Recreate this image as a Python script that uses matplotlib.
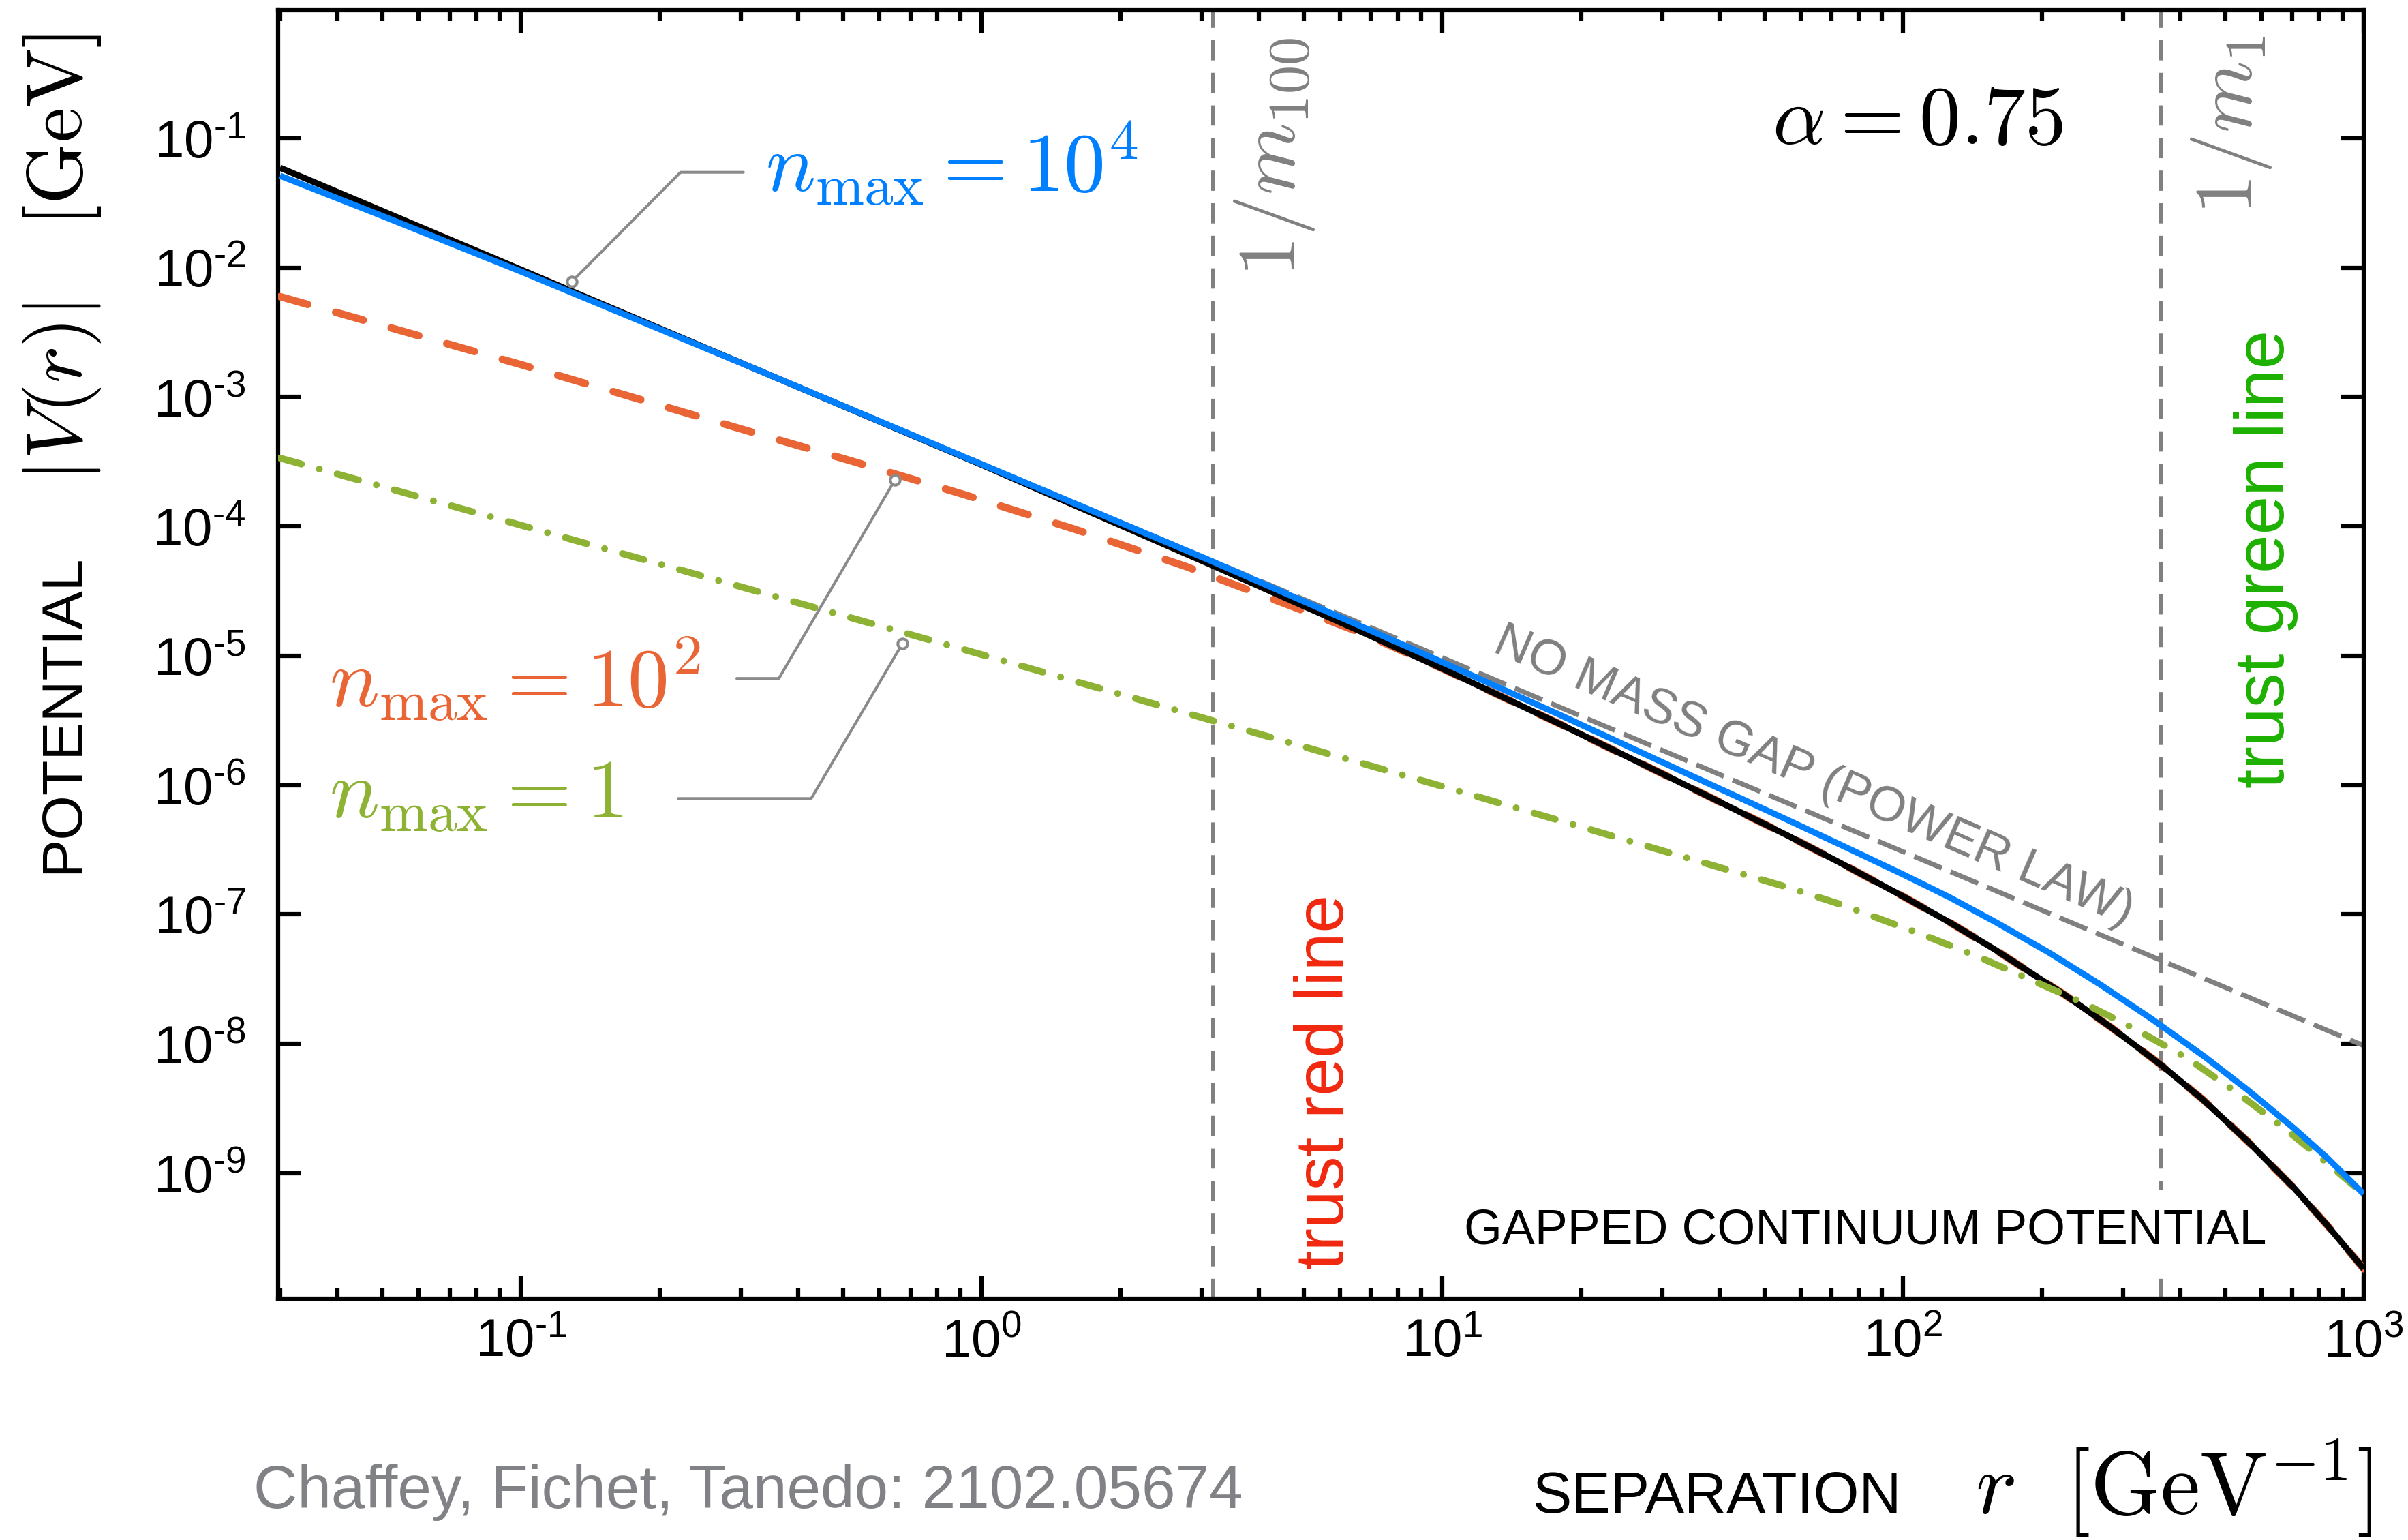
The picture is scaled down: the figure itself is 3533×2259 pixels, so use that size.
import numpy as np
import matplotlib
matplotlib.use("Agg")
import matplotlib.pyplot as plt
from matplotlib.ticker import FixedLocator, FuncFormatter, LogLocator, NullFormatter, NullLocator

# ---------------- data ----------------
r_gapped = [0.03, 0.1, 0.316, 1.0, 3.16, 6.73, 10, 17.8, 31.6, 56.2, 73.0, 100, 126, 158,
            224, 282, 362, 447, 562, 708, 832, 1000]
V_gapped = [5.92e-2, 9.66e-3, 1.70e-3, 2.99e-4, 5.01e-5, 1.51e-5, 7.94e-6, 3.02e-6, 1.12e-6,
            4.07e-7, 2.51e-7, 1.38e-7, 8.71e-8, 5.37e-8, 2.40e-8, 1.35e-8, 6.92e-9, 3.72e-9,
            1.74e-9, 7.59e-10, 3.98e-10, 1.82e-10]

r_n1e4 = [0.03, 0.05, 0.1, 0.316, 1.0, 3.16, 6.73, 10, 17.8, 31.6, 56.2, 73.0, 100, 126, 158,
          207, 268, 348, 452, 562, 708, 832, 1000]
V_n1e4 = [5.13e-2, 2.51e-2, 9.33e-3, 1.70e-3, 3.02e-4, 5.37e-5, 1.66e-5, 8.91e-6, 3.55e-6,
          1.38e-6, 5.37e-7, 3.47e-7, 2.04e-7, 1.36e-7, 8.81e-8, 5.09e-8, 2.87e-8, 1.54e-8,
          7.92e-9, 4.35e-9, 2.20e-9, 1.32e-9, 6.90e-10]

r_n1e2 = [0.03, 0.1, 0.316, 0.525, 0.916, 1.598, 2.76, 4.73, 6.73, 10, 17.8, 31.6, 56.2, 73.0,
          100, 126, 158, 224, 282, 362, 447, 562, 708, 832, 1000]
V_n1e2 = [5.97e-3, 1.78e-3, 5.37e-4, 3.18e-4, 1.76e-4, 9.46e-5, 4.93e-5, 2.40e-5, 1.48e-5,
          7.94e-6, 3.02e-6, 1.12e-6, 4.07e-7, 2.51e-7, 1.38e-7, 8.71e-8, 5.37e-8, 2.40e-8,
          1.35e-8, 6.92e-9, 3.72e-9, 1.74e-9, 7.59e-10, 3.98e-10, 1.82e-10]

r_n1 = [0.03, 0.1, 0.316, 1.0, 3.16, 10, 17.8, 31.6, 56.2, 73.0, 109, 144, 188, 246, 319, 414,
        528, 675, 830, 1000]
V_n1 = [3.37e-4, 1.02e-4, 3.24e-5, 1.02e-5, 3.16e-6, 9.77e-7, 5.37e-7, 2.95e-7, 1.62e-7,
        1.20e-7, 7.08e-8, 4.79e-8, 3.16e-8, 2.07e-8, 1.30e-8, 7.73e-9, 4.25e-9, 2.20e-9,
        1.21e-9, 6.89e-10]

r_power = [0.03, 1000]
V_power = [5.87e-2, 9.66e-9]

r_inverse_mass = [3.17, 362]          # 1/m_100 , 1/m_1
x_ticks = [1e-1, 1e0, 1e1, 1e2, 1e3]
y_ticks = [1e-9, 1e-8, 1e-7, 1e-6, 1e-5, 1e-4, 1e-3, 1e-2, 1e-1]

# ---------------- style ----------------
SANS = "Liberation Sans"
plt.rcParams["font.family"] = [SANS, "DejaVu Sans"]
plt.rcParams["mathtext.fontset"] = "custom"
plt.rcParams["mathtext.rm"] = SANS
plt.rcParams["mathtext.it"] = SANS + ":italic"
plt.rcParams["mathtext.bf"] = SANS + ":bold"
plt.rcParams["lines.scale_dashes"] = False
plt.rcParams["axes.linewidth"] = 2.0

C_BLUE = "#0080ff"
C_RED = "#ea6535"
C_GREEN = "#8db234"
C_GRAY = "#808080"
C_LEAD = "#8a8a8a"

W, H, DPI = 3533, 2259, 225
fig = plt.figure(figsize=(W / DPI, H / DPI), dpi=DPI)
ax = fig.add_axes([408 / W, 1 - 1905 / H, (3468 - 408) / W, (1905 - 15) / H])
ax.set_xscale("log")
ax.set_yscale("log")
ax.set_xlim(0.0297, 1000)
ax.set_ylim(1.07e-10, 0.977)

# vertical 1/m lines
for rv in r_inverse_mass:
    ax.axvline(rv, color=C_GRAY, lw=1.6, dashes=(9.5, 5.8), zorder=1)

# curves
ax.plot(r_power, V_power, color=C_GRAY, lw=2.3, dashes=(14, 4.5), zorder=2)
ax.plot(r_n1e2, V_n1e2, color=C_RED, lw=3.5, dashes=(13.5, 13.6),
        dash_capstyle="round", zorder=3)
ax.plot(r_gapped, V_gapped, color="black", lw=2.9, zorder=4, solid_capstyle="butt")
ax.plot(r_n1, V_n1, color=C_GREEN, lw=3.2, dashes=(10.4, 8.7, 0.01, 8.7),
        dash_capstyle="round", zorder=5)
ax.plot(r_n1e4, V_n1e4, color=C_BLUE, lw=2.9, zorder=6, solid_capstyle="butt")

# ticks
def fmt(v, pos):
    e = int(round(np.log10(v)))
    if e < 0:
        return r"$10^{\text{-}%d}$" % (-e)
    return r"$10^{%d}$" % e

ax.xaxis.set_major_locator(FixedLocator(x_ticks))
ax.xaxis.set_minor_locator(LogLocator(base=10, subs=np.arange(2, 10)))
ax.xaxis.set_major_formatter(FuncFormatter(fmt))
ax.xaxis.set_minor_formatter(NullFormatter())
ax.yaxis.set_major_locator(FixedLocator(y_ticks))
ax.yaxis.set_minor_locator(NullLocator())
ax.yaxis.set_major_formatter(FuncFormatter(fmt))
ax.tick_params(which="both", direction="in", top=True, right=True, width=2.0)
ax.tick_params(which="major", length=10.5, labelsize=25)
ax.tick_params(which="minor", length=5)
ax.tick_params(axis="x", which="major", pad=9)
ax.tick_params(axis="y", which="major", pad=15)

# leader lines with open circle markers
leaders = [
    ([0.304, 0.222, 0.129], [0.0546, 0.0546, 7.8e-3]),
    ([0.294, 0.363, 0.648], [6.67e-6, 6.67e-6, 2.28e-4]),
    ([0.2194, 0.4266, 0.673], [7.87e-7, 7.87e-7, 1.24e-5]),
]
for xs, ys in leaders:
    ax.plot(xs, ys, color=C_LEAD, lw=1.3, zorder=7, solid_capstyle="round")
    ax.plot(xs[-1], ys[-1], "o", ms=4.6, mfc="white", mec=C_LEAD, mew=1.3, zorder=8)

# curve labels
ax.text(0.339, 0.0384, r"$n_{\rm max} = 10^4$", color=C_BLUE, fontsize=39,
        math_fontfamily="cm", ha="left", va="baseline")
ax.text(0.0383, 4.01e-6, r"$n_{\rm max} = 10^2$", color=C_RED, fontsize=39,
        math_fontfamily="cm", ha="left", va="baseline")
ax.text(0.0383, 5.56e-7, r"$n_{\rm max} = 1$", color=C_GREEN, fontsize=39,
        math_fontfamily="cm", ha="left", va="baseline")

ax.text(51.9, 0.0902, r"$\alpha = 0.75$", color="black", fontsize=39,
        math_fontfamily="cm", ha="left", va="baseline")
ax.text(4.32, 0.0713, r"$1/m_{100}$", color=C_GRAY, fontsize=38.5, rotation=90,
        math_fontfamily="cm", ha="center", va="center")
ax.text(517, 0.1264, r"$1/m_{1}$", color=C_GRAY, fontsize=38.5, rotation=90,
        math_fontfamily="cm", ha="center", va="center")

ax.text(5.58, 5.05e-9, "trust red line", color="#f0280f", fontsize=32, rotation=90,
        ha="center", va="center")
ax.text(612.6, 5.61e-5, "trust green line", color="#1db100", fontsize=32.5, rotation=90,
        ha="center", va="center")

ax.text(12.76, 1.08e-5, "NO MASS GAP (POWER LAW)", color=C_GRAY, fontsize=23,
        rotation=-23.4, rotation_mode="anchor", ha="left", va="baseline")
ax.text(82.9, 2.84e-10, "GAPPED CONTINUUM POTENTIAL", color="black", fontsize=23,
        ha="center", va="baseline", zorder=9,
        bbox=dict(facecolor="white", edgecolor="none", pad=9))

# axis labels (outside the axes)
fig.text(92.5 / W, 1 - 1046.5 / H, "POTENTIAL", rotation=90, fontsize=27,
         ha="center", va="center")
fig.text(91 / W, 1 - 378 / H, r"$|V(r)|\quad[\mathrm{GeV}]$", rotation=90,
         fontsize=37, math_fontfamily="cm", ha="center", va="center")
fig.text(2248.6 / W, 1 - 2218.7 / H, "SEPARATION", fontsize=27.5, ha="left", va="baseline")
fig.text(2898 / W, 1 - 2220 / H, r"$r$", fontsize=41, math_fontfamily="cm",
         ha="left", va="baseline")
fig.text(3030 / W, 1 - 2222 / H, r"$[\mathrm{GeV}^{-1}]$", fontsize=42,
         math_fontfamily="cm", ha="left", va="baseline")
fig.text(372 / W, 1 - 2211.6 / H, "Chaffey, Fichet, Tanedo: 2102.05674", fontsize=28.5,
         color="#808285", ha="left", va="baseline")

fig.savefig("out.png", dpi=DPI)
